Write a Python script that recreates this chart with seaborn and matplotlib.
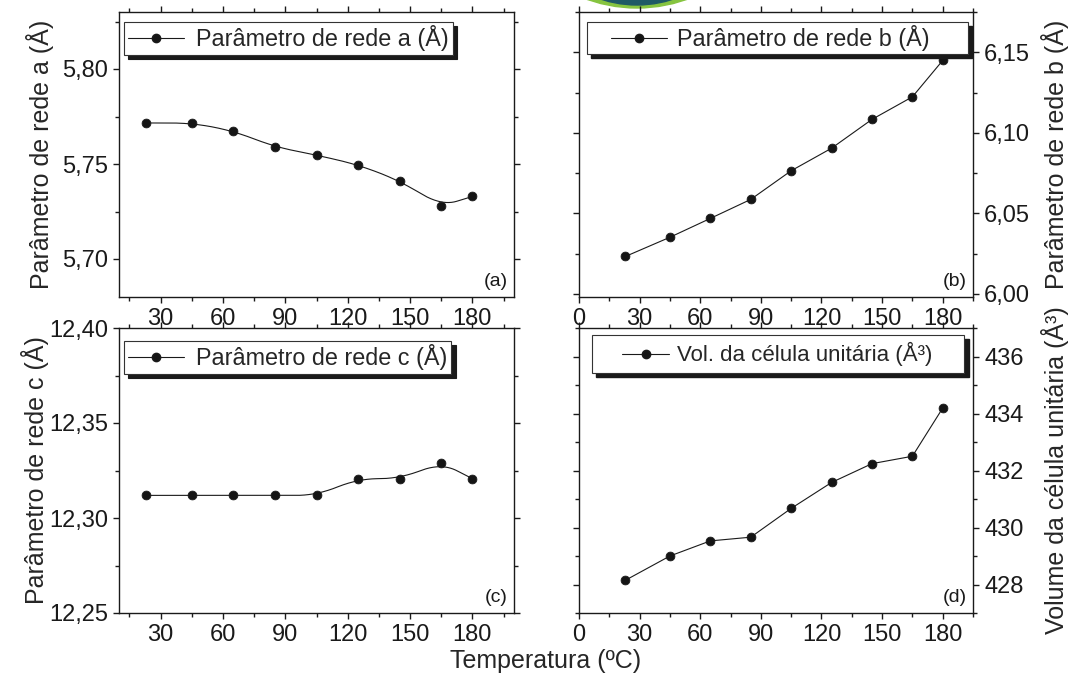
import numpy as np
import pandas as pd
import seaborn as sns
import matplotlib
matplotlib.use('Agg')
import matplotlib.pyplot as plt
from matplotlib.lines import Line2D
from matplotlib.patches import Ellipse, Rectangle
from matplotlib.ticker import MultipleLocator, FuncFormatter

temperatura = [23, 45, 65, 85, 105, 125, 145, 165, 180]
param_a = [5.7716, 5.7716, 5.7674, 5.7590, 5.7547, 5.7496, 5.7412, 5.7279, 5.7329]
param_b = [6.0232, 6.0351, 6.0468, 6.0586, 6.0764, 6.0904, 6.1083, 6.1223, 6.1449]
param_c = [12.3119, 12.3119, 12.3119, 12.3119, 12.3119, 12.3207, 12.3207, 12.3291, 12.3207]
volume = [428.15, 429.00, 429.53, 429.66, 430.67, 431.58, 432.24, 432.50, 434.19]

legenda = ['Parâmetro de rede a (Å)', 'Parâmetro de rede b (Å)',
           'Parâmetro de rede c (Å)', 'Vol. da célula unitária (Å³)']
rotulos_y = ['Parâmetro de rede a (Å)', 'Parâmetro de rede b (Å)',
             'Parâmetro de rede c (Å)', 'Volume da célula unitária (Å³)']

sns.set_theme(style='ticks')
plt.rcParams['font.family'] = ['Liberation Sans', 'DejaVu Sans']
plt.rcParams['axes.linewidth'] = 1.0


def chaikin(x, y, n=6):
    # B-spline style smoothing (Origin "B-Spline" connect)
    p = np.column_stack([x, y]).astype(float)
    for _ in range(n):
        q = 0.75 * p[:-1] + 0.25 * p[1:]
        r = 0.25 * p[:-1] + 0.75 * p[1:]
        mid = np.empty((2 * len(q), 2))
        mid[0::2] = q
        mid[1::2] = r
        p = np.vstack([p[:1], mid, p[-1:]])
    return p[:, 0], p[:, 1]


def virgula(casas):
    return FuncFormatter(lambda v, pos: f'{v:.{casas}f}'.replace('.', ','))


W, H = 1075, 675
fig = plt.figure(figsize=(W / 100, H / 100), dpi=100)


def eixo(l, t, r, b):
    return fig.add_axes([l / W, 1 - b / H, (r - l) / W, (b - t) / H])


def caixa(ax, x0, y0, x1, y1):
    # legend frame with hard black shadow, in axes fractions
    sh = Rectangle((x0 + 0.011, y0 - 0.015), x1 - x0, y1 - y0, transform=ax.transAxes,
                   facecolor='k', edgecolor='k', zorder=6, clip_on=False)
    fr = Rectangle((x0, y0), x1 - x0, y1 - y0, transform=ax.transAxes,
                   facecolor='white', edgecolor='#333333', lw=0.8, zorder=6.1, clip_on=False)
    ax.add_patch(sh)
    ax.add_patch(fr)


paineis = [
    dict(box=(119, 12, 514, 297), y=param_a, xlim=(10, 200), ylim=(5.68, 5.83), maj=0.05, mnr=0.025,
         casas=2, suave=True, lado='left', tag='(a)', lfs=16.8, lx=-0.20,
         leg=(0.013, 0.965), caixa=None, hl=2.4, htp=0.55),
    dict(box=(579, 12, 973, 297), y=param_b, xlim=(0, 195), ylim=(5.998, 6.175), maj=0.05, mnr=0.025,
         casas=2, suave=False, lado='right', tag='(b)', lfs=16.8, lx=1.208,
         leg=(0.08, 0.909), caixa=(0.02, 0.853, 0.987, 0.965), hl=2.4, htp=0.45),
    dict(box=(119, 328, 514, 613), y=param_c, xlim=(10, 200), ylim=(12.25, 12.40), maj=0.05, mnr=0.025,
         casas=2, suave=True, lado='left', tag='(c)', lfs=16.8, lx=-0.213,
         leg=(0.013, 0.955), caixa=None, hl=2.4, htp=0.55),
    dict(box=(579, 328, 973, 613), y=volume, xlim=(0, 195), ylim=(427, 437), maj=2, mnr=1,
         casas=0, suave=False, lado='right', tag='(d)', lfs=16, lx=1.208,
         leg=(0.11, 0.908), caixa=(0.033, 0.842, 0.978, 0.975), hl=2.1, htp=0.35),
]

for i, p in enumerate(paineis):
    ax = eixo(*p['box'])
    df = pd.DataFrame({'T': temperatura, 'v': p['y']})
    if p['suave']:
        xs, ys = chaikin(df['T'], df['v'])
        sns.lineplot(x=xs, y=ys, ax=ax, color='k', lw=0.8, sort=False, estimator=None)
    else:
        sns.lineplot(data=df, x='T', y='v', ax=ax, color='k', lw=0.8, estimator=None)
    sns.scatterplot(data=df, x='T', y='v', ax=ax, color='#151515', s=40,
                    edgecolor='k', linewidth=0.6, zorder=3)

    ax.set_xlim(*p['xlim'])
    ax.set_ylim(*p['ylim'])
    ax.xaxis.set_major_locator(MultipleLocator(30))
    ax.xaxis.set_minor_locator(MultipleLocator(15))
    ax.yaxis.set_major_locator(MultipleLocator(p['maj']))
    ax.yaxis.set_minor_locator(MultipleLocator(p['mnr']))
    ax.yaxis.set_major_formatter(virgula(p['casas']))
    ax.tick_params(which='both', direction='out', top=True, bottom=True, left=True, right=True,
                   labelsize=17, colors='k', width=1.0)
    ax.tick_params(which='major', length=4.5)
    ax.tick_params(which='minor', length=3)
    for s in ax.spines.values():
        s.set_color('k')
    ax.set_xlabel('')
    ax.set_ylabel(rotulos_y[i], fontsize=18)
    if p['lado'] == 'right':
        ax.tick_params(axis='y', labelleft=False, labelright=True)
        ax.yaxis.set_label_position('right')
    ax.yaxis.label.set(rotation=90, va='center', ha='center')
    ax.yaxis.set_label_coords(p['lx'], 0.5)

    h = Line2D([], [], color='k', lw=0.8, marker='o', ms=6, mfc='#151515', mec='k')
    if p['caixa'] is None:
        leg = ax.legend([h], [legenda[i]], loc='upper left', bbox_to_anchor=p['leg'],
                        borderaxespad=0, fancybox=False, framealpha=1, fontsize=p['lfs'],
                        handlelength=p['hl'], handletextpad=p['htp'], borderpad=0.15,
                        shadow={'ox': 3, 'oy': -3, 'facecolor': 'k', 'edgecolor': 'k', 'alpha': 1})
        leg.get_frame().set_edgecolor('#333333')
        leg.get_frame().set_linewidth(0.8)
    else:
        caixa(ax, *p['caixa'])
        leg = ax.legend([h], [legenda[i]], loc='center left', bbox_to_anchor=p['leg'],
                        borderaxespad=0, frameon=False, fontsize=p['lfs'],
                        handlelength=p['hl'], handletextpad=p['htp'], borderpad=0.0)
        leg.set_zorder(7)

    ax.text(0.985, 0.025, p['tag'], transform=ax.transAxes, ha='right', va='bottom',
            fontsize=14, color='k')

fig.text(546 / W, 1 - 661 / H, 'Temperatura (ºC)', ha='center', va='center', fontsize=18)

# logo verde cortado no topo
fig.add_artist(Ellipse((637 / W, 1 + 140 / H), 2 * 148 / W, 2 * 148 / H,
                       transform=fig.transFigure, color='#86c440', zorder=0))
fig.add_artist(Ellipse((637 / W, 1 + 110 / H), 2 * 115 / W, 2 * 115 / H,
                       transform=fig.transFigure, color='#1f5a66', zorder=0))

fig.savefig('out.png', dpi=100)
